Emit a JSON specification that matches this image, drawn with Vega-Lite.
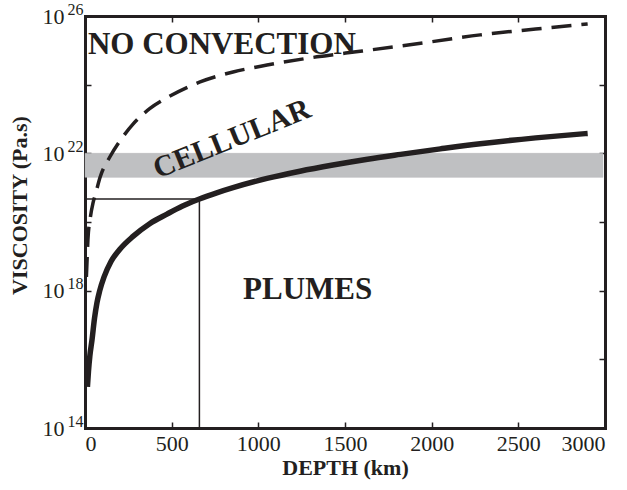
{
  "$schema": "https://vega.github.io/schema/vega-lite/v6.json",
  "width": 520,
  "height": 412,
  "autosize": "none",
  "padding": {"left": 85, "top": 16, "right": 22, "bottom": 62},
  "background": "white",
  "config": {
    "view": {"stroke": null},
    "font": "Liberation Serif",
    "axis": {
      "domainColor": "#231f20", "domainWidth": 3, "domainCap": "square",
      "tickColor": "#231f20", "tickWidth": 1.5, "tickSize": -6,
      "labelFont": "Liberation Serif", "labelFontSize": 22, "labelColor": "#231f20",
      "titleFont": "Liberation Serif", "titleFontSize": 22, "titleFontWeight": "bold", "titleColor": "#231f20",
      "grid": false, "labelOverlap": false
    }
  },
  "datasets": {
    "solid": [
      {"depth": 14, "viscosity": 1.58e15},
      {"depth": 20, "viscosity": 4.47e15},
      {"depth": 28, "viscosity": 1.26e16},
      {"depth": 40, "viscosity": 3.55e16},
      {"depth": 55, "viscosity": 1.58e17},
      {"depth": 69, "viscosity": 4.47e17},
      {"depth": 85, "viscosity": 1.0e18},
      {"depth": 110, "viscosity": 2.51e18},
      {"depth": 150, "viscosity": 7.08e18},
      {"depth": 200, "viscosity": 1.58e19},
      {"depth": 277, "viscosity": 3.8e19},
      {"depth": 373, "viscosity": 8.91e19},
      {"depth": 473, "viscosity": 1.7e20},
      {"depth": 560, "viscosity": 2.88e20},
      {"depth": 660, "viscosity": 4.68e20},
      {"depth": 760, "viscosity": 7.08e20},
      {"depth": 854, "viscosity": 1.0e21},
      {"depth": 1050, "viscosity": 1.86e21},
      {"depth": 1240, "viscosity": 3.02e21},
      {"depth": 1430, "viscosity": 4.57e21},
      {"depth": 1630, "viscosity": 6.76e21},
      {"depth": 1820, "viscosity": 9.33e21},
      {"depth": 2050, "viscosity": 1.35e22},
      {"depth": 2280, "viscosity": 1.91e22},
      {"depth": 2600, "viscosity": 2.82e22},
      {"depth": 2900, "viscosity": 3.8e22}
    ],
    "dashed": [
      {"depth": 8, "viscosity": 2.51e18},
      {"depth": 12, "viscosity": 7.94e18},
      {"depth": 17, "viscosity": 3.16e19},
      {"depth": 30, "viscosity": 1.26e20},
      {"depth": 46, "viscosity": 3.55e20},
      {"depth": 60, "viscosity": 6.31e20},
      {"depth": 87, "viscosity": 2.0e21},
      {"depth": 144, "viscosity": 7.94e21},
      {"depth": 200, "viscosity": 2.24e22},
      {"depth": 277, "viscosity": 7.08e22},
      {"depth": 373, "viscosity": 2.0e23},
      {"depth": 473, "viscosity": 4.17e23},
      {"depth": 664, "viscosity": 1.2e24},
      {"depth": 854, "viscosity": 2.34e24},
      {"depth": 1050, "viscosity": 3.72e24},
      {"depth": 1338, "viscosity": 6.46e24},
      {"depth": 1600, "viscosity": 9.55e24},
      {"depth": 2000, "viscosity": 1.78e25},
      {"depth": 2280, "viscosity": 2.82e25},
      {"depth": 2600, "viscosity": 4.17e25},
      {"depth": 2900, "viscosity": 5.89e25}
    ],
    "band": [{"x0": 0, "x1": 2988, "v0": 2.0e21, "v1": 1.0e22}],
    "rules": [
      {"x0": 0, "x1": 660, "v0": 4.7e20, "v1": 4.7e20},
      {"x0": 660, "x1": 660, "v0": 1.0e14, "v1": 4.7e20}
    ],
    "labels": [
      {"depth": 17, "viscosity": 7.8e24, "label": "NO CONVECTION"},
      {"depth": 912, "viscosity": 5.75e17, "label": "PLUMES"}
    ],
    "tilted": [
      {"depth": 848, "viscosity": 2.6e22, "label": "CELLULAR"}
    ]
  },
  "resolve": {"axis": {"x": "independent", "y": "independent"}},
  "layer": [
    {
      "data": {"name": "band"},
      "mark": {"type": "rect", "fill": "#bfc0c2", "stroke": "#b3b5b7", "strokeWidth": 0.5},
      "encoding": {
        "x": {"field": "x0", "type": "quantitative", "scale": {"domain": [0, 3000], "nice": false}, "axis": null},
        "x2": {"field": "x1"},
        "y": {"field": "v0", "type": "quantitative", "scale": {"type": "log", "domain": [1e14, 1e26], "nice": false}, "axis": null},
        "y2": {"field": "v1"}
      }
    },
    {
      "data": {"name": "rules"},
      "mark": {"type": "rule", "color": "#231f20", "strokeWidth": 1.5},
      "encoding": {
        "x": {"field": "x0", "type": "quantitative", "axis": null},
        "x2": {"field": "x1"},
        "y": {"field": "v0", "type": "quantitative", "axis": null},
        "y2": {"field": "v1"}
      }
    },
    {
      "data": {"name": "dashed"},
      "mark": {"type": "line", "color": "#231f20", "strokeWidth": 3.5, "strokeDash": [20, 10], "interpolate": "monotone"},
      "encoding": {
        "x": {"field": "depth", "type": "quantitative",
          "axis": {"orient": "top", "values": [0, 500, 1000, 1500, 2000, 2500, 3000], "labels": false, "title": null}},
        "y": {"field": "viscosity", "type": "quantitative",
          "axis": {"orient": "right", "values": [1e14, 1e16, 1e18, 1e20, 1e22, 1e24, 1e26], "labels": false, "title": null}}
      }
    },
    {
      "data": {"name": "solid"},
      "mark": {"type": "line", "color": "#231f20", "strokeWidth": 5.5, "interpolate": "monotone"},
      "encoding": {
        "x": {"field": "depth", "type": "quantitative",
          "axis": {"orient": "bottom", "values": [0, 500, 1000, 1500, 2000, 2500, 3000], "format": "d", "title": "DEPTH (km)", "labelPadding": 11, "titlePadding": 3}},
        "y": {"field": "viscosity", "type": "quantitative",
          "axis": {"orient": "left", "values": [1e14, 1e16, 1e18, 1e20, 1e22, 1e24, 1e26],
            "labelExpr": "indexof([14, 18, 22, 26], round(log(datum.value)/LN10)) >= 0 ? '10' : ''",
            "labelPadding": 27,
            "title": "VISCOSITY (Pa.s)", "titleFontSize": 22, "titleX": -66, "titleY": 189, "titleAngle": -90, "titleAlign": "center", "titleBaseline": "middle"}}
      }
    },
    {
      "data": {"name": "labels"},
      "mark": {"type": "text", "font": "Liberation Serif", "fontWeight": "bold", "fontSize": 31, "align": "left", "baseline": "alphabetic", "color": "#231f20"},
      "encoding": {
        "x": {"field": "depth", "type": "quantitative", "axis": null},
        "y": {"field": "viscosity", "type": "quantitative", "axis": null},
        "text": {"field": "label"}
      }
    },
    {
      "data": {"name": "tilted"},
      "mark": {"type": "text", "font": "Liberation Serif", "fontWeight": "bold", "fontSize": 30, "align": "center", "baseline": "middle", "angle": -22, "color": "#231f20"},
      "encoding": {
        "x": {"field": "depth", "type": "quantitative", "axis": null},
        "y": {"field": "viscosity", "type": "quantitative",
          "axis": {"orient": "left", "values": [1e14, 1e18, 1e22, 1e26], "domain": false, "ticks": false, "tickSize": 0,
            "labelExpr": "'' + round(log(datum.value)/LN10)", "labelFontSize": 16, "labelPadding": 2, "labelOffset": -7, "title": null}},
        "text": {"field": "label"}
      }
    }
  ]
}
